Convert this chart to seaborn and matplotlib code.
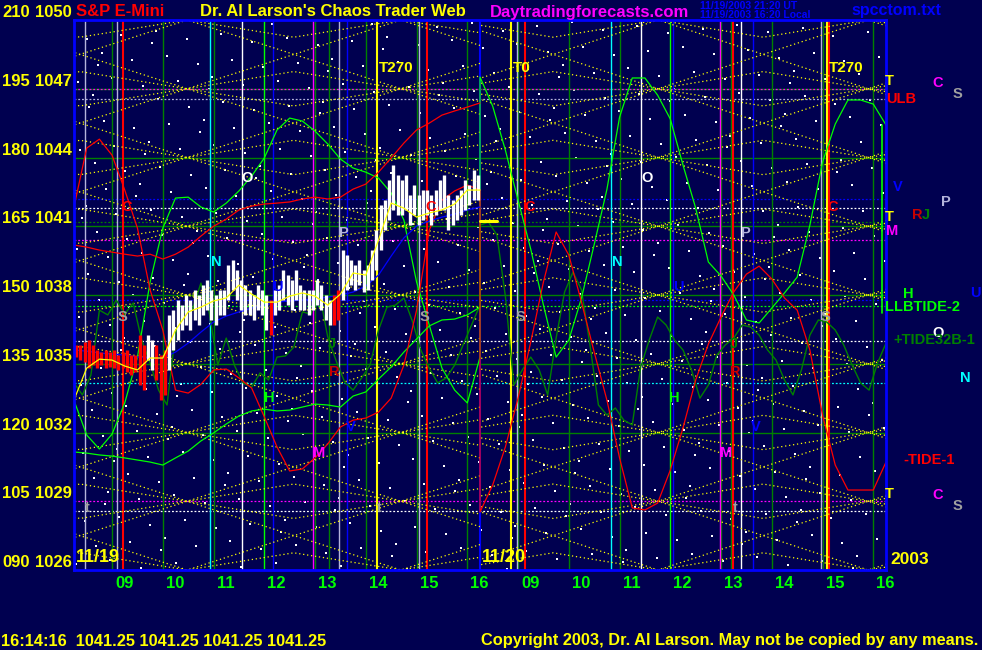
import numpy as np
import matplotlib
matplotlib.use('Agg')
import matplotlib.pyplot as plt
import seaborn as sns
from matplotlib.patches import Rectangle

sns.set_style('dark')
plt.rcParams['font.family'] = ['Liberation Sans', 'DejaVu Sans']
plt.rcParams['font.weight'] = 'bold'

# ---------------- data ----------------
price_levels = [1026, 1029, 1032, 1035, 1038, 1041, 1044, 1047, 1050]
angle_labels = ['090', '105', '120', '135', '150', '165', '180', '195', '210']
hours = [9, 10, 11, 12, 13, 14, 15, 16]
day_names = ['11/19', '11/20']

# 15 minute samples from 8:15 to 16:15 (33 per day)
red_cycle_d1 = [1041.84, 1044.41, 1044.8, 1044.1, 1042.58, 1040.92, 1038.22, 1036.47, 1033.85, 1033.72,
                1034.1, 1034.73, 1034.77, 1034.38, 1033.94, 1032.68, 1031.37, 1030.32, 1030.41, 1030.89,
                1031.5, 1032.24, 1032.54, 1032.63, 1032.89, 1033.5, 1034.94, 1037.34, 1040.83, 1042.14,
                1042.54, 1042.8, 1042.58]
red_cycle_d2 = [1028.53, 1029.71, 1031.37, 1033.5, 1035.95, 1038.57, 1040.75, 1039.74, 1037.69, 1035.51,
                1033.42, 1030.89, 1028.71, 1028.62, 1028.92, 1030.36, 1032.2, 1034.29, 1035.86, 1037.04,
                1038.13, 1038.91, 1039.26, 1038.7, 1037.87, 1037.34, 1035.6, 1032.76, 1030.58, 1029.49,
                1029.49, 1029.49, 1030.71]
green_tide_d1 = [1033.4, 1031.89, 1031.28, 1031.93, 1033.29, 1035.29, 1038.57, 1040.92, 1042.23, 1042.27,
                 1041.84, 1041.62, 1042.01, 1042.54, 1043.19, 1043.98, 1045.2, 1045.72, 1045.59, 1045.15,
                 1044.59, 1043.93, 1043.54, 1043.36, 1043.1, 1042.45, 1041.27, 1038.57, 1036.69, 1034.81,
                 1033.85, 1033.29, 1035.29]
green_tide_d2 = [1047.51, 1046.24, 1044.32, 1042.14, 1040.0, 1037.56, 1035.29, 1036.03, 1037.87, 1040.2,
                 1042.6, 1045.76, 1047.47, 1047.47, 1046.72, 1045.68, 1043.67, 1041.79, 1039.44, 1038.83,
                 1038.0, 1036.91, 1036.78, 1037.43, 1038.09, 1038.78, 1041.05, 1043.8, 1045.46, 1046.51,
                 1046.51, 1046.33, 1045.42]
green_llb_d1 = [1031.15, 1031.1, 1031.02, 1030.97, 1030.89, 1030.8, 1030.71, 1030.58, 1030.89, 1031.19,
                1031.63, 1031.98, 1032.37, 1032.72, 1032.94, 1033.02, 1032.94, 1032.98, 1033.11, 1033.24,
                1033.2, 1033.11, 1033.59, 1033.77, 1034.33, 1034.86, 1035.51, 1036.08, 1036.65, 1036.91,
                1036.95, 1037.13, 1037.47]
blue_avg_d1 = [1035.6, 1035.55, 1035.47, 1035.42, 1035.38, 1035.29, 1035.25, 1035.25, 1035.51, 1035.9,
               1036.38, 1036.82, 1037.08, 1037.26, 1037.43, 1037.56, 1037.69, 1037.74, 1037.78, 1037.82,
               1037.91, 1038.0, 1038.13, 1038.39, 1038.87, 1039.7, 1040.49, 1041.01, 1041.23, 1041.4,
               1041.53, 1041.71, 1041.84]
yellow_avg_d1 = [1033.42, 1034.81, 1035.2, 1035.16, 1034.9, 1034.73, 1035.25, 1035.25, 1036.47, 1037.26,
                 1037.47, 1037.74, 1037.87, 1038.43, 1038.04, 1037.69, 1037.69, 1037.95, 1038.09, 1037.95,
                 1037.56, 1038.04, 1038.96, 1038.87, 1040.4, 1042.01, 1041.79, 1041.4, 1041.58, 1041.71,
                 1041.97, 1042.58, 1042.58]
red_slow_d1 = [1040.18, 1040.09, 1039.96, 1039.87, 1039.78, 1039.7, 1039.78, 1039.57, 1039.78, 1040.09,
               1040.57, 1041.0, 1041.31, 1041.71, 1041.88, 1041.97, 1042.01, 1042.06, 1042.19, 1042.27,
               1042.19, 1042.27, 1042.62, 1042.84, 1043.36, 1043.98, 1044.63, 1045.2, 1045.5, 1045.85,
               1046.03, 1046.2, 1046.38]

# 10 minute samples (49 per day)
dkgreen_d1 = [1034.16, 1033.64, 1034.51, 1037.34, 1037.13, 1037.78, 1037.17, 1037.65, 1036.03, 1035.03,
              1033.85, 1033.2, 1036.34, 1037.26, 1037.34, 1038.52, 1037.21, 1034.94, 1036.12, 1034.9,
              1034.16, 1033.98, 1034.6, 1034.29, 1035.29, 1035.34, 1035.73, 1037.26, 1037.17, 1038.09,
              1036.17, 1035.12, 1034.2, 1033.85, 1034.38, 1034.94, 1036.47, 1037.47, 1037.56, 1037.87,
              1036.86, 1035.6, 1034.81, 1034.16, 1034.38, 1034.94, 1035.82, 1036.69, 1037.56]
dkgreen_d2 = [1041.05, 1041.18, 1040.62, 1037.95, 1034.07, 1034.73, 1035.29, 1034.73, 1033.64, 1036.12,
              1038.13, 1039.0, 1038.22, 1035.82, 1033.2, 1032.76, 1033.07, 1032.54, 1032.33, 1034.86,
              1036.03, 1037.04, 1036.69, 1036.03, 1035.6, 1034.73, 1033.5, 1034.07, 1035.38, 1035.82,
              1036.12, 1036.69, 1036.6, 1036.25, 1035.6, 1035.16, 1034.29, 1033.64, 1034.73, 1036.25,
              1036.91, 1036.82, 1036.47, 1035.82, 1034.94, 1034.16, 1033.85, 1035.03, 1035.9]

# 5 minute price bars, 11/19
bar_high = [1035.82, 1035.82, 1035.95, 1036.03, 1035.82, 1035.60, 1035.51, 1035.60, 1035.51,
            1035.60, 1035.38, 1035.51, 1035.60, 1035.38, 1035.38, 1036.25, 1035.82,
            1036.25, 1036.03, 1035.82, 1035.38, 1035.60, 1037.13, 1037.34, 1037.78, 1037.56, 1038.00,
            1037.78, 1038.22, 1038.00, 1038.43, 1038.65, 1038.22, 1038.00, 1038.22, 1038.22, 1039.31,
            1039.53, 1039.09, 1038.65, 1038.43, 1038.22, 1038.00, 1038.43, 1038.22,
            1038.00, 1037.78, 1038.22, 1038.43, 1039.09, 1038.87, 1038.65, 1039.09, 1038.43, 1038.22,
            1038.22, 1038.22, 1038.65, 1038.43, 1038.00, 1037.78, 1038.00, 1038.22, 1039.96,
            1039.74, 1039.53, 1039.31, 1039.53, 1039.09, 1039.31, 1039.96, 1040.83, 1041.92, 1042.14,
            1043.02, 1043.67, 1043.23, 1043.02, 1043.23, 1042.36, 1042.80, 1042.36,
            1042.58, 1042.58, 1042.36, 1042.58, 1043.02, 1043.23, 1042.36, 1042.14, 1042.36, 1042.58,
            1043.02, 1042.80, 1043.45, 1043.23]
bar_low = [1035.29, 1035.16, 1035.08, 1034.81, 1034.94, 1034.81, 1034.94, 1034.81, 1034.86,
           1034.81, 1034.73, 1034.81, 1034.64, 1034.51, 1034.64, 1034.07, 1033.85,
           1035.16, 1034.73, 1034.29, 1033.42, 1033.64, 1034.73, 1035.60, 1036.03, 1036.47, 1036.69,
           1036.47, 1036.91, 1036.69, 1037.13, 1037.34, 1036.91, 1036.69, 1037.13, 1037.13, 1037.78,
           1038.22, 1037.78, 1037.34, 1037.13, 1037.13, 1036.91, 1037.34, 1037.13,
           1036.47, 1036.25, 1037.13, 1037.34, 1037.78, 1037.56, 1037.34, 1037.78, 1037.34, 1037.34,
           1037.13, 1037.34, 1037.56, 1037.34, 1036.91, 1036.69, 1036.69, 1036.91, 1037.78,
           1038.22, 1038.43, 1038.22, 1038.43, 1038.13, 1038.22, 1038.65, 1039.09, 1039.96, 1040.83,
           1041.27, 1041.71, 1041.49, 1041.49, 1041.71, 1041.05, 1041.49, 1041.05,
           1041.27, 1041.49, 1041.05, 1041.49, 1041.71, 1041.71, 1040.83, 1041.05, 1041.27, 1041.49,
           1041.71, 1041.92, 1042.14, 1042.14]
red_bar_idx = list(range(0, 17)) + [19, 20, 21, 46, 61, 62]
last_price = 1041.25

# horizontal reference levels
green_levels = [1032, 1035, 1038, 1041, 1044, 1047]
dotted_levels = [(1047.0, 'mag'), (1046.54, 'lav'), (1042.2, 'blu'), (1041.8, 'wht'), (1041.2, 'dkg'),
                 (1040.4, 'mag'), (1037.8, 'blu'), (1037.5, 'grn'), (1036.0, 'wht'), (1034.16, 'cyn'),
                 (1029.0, 'mag'), (1028.57, 'wht')]

# vertical timing lines: (day, clock hour, colour)
timing_lines = [(0, 8.47, 'lav'), (0, 9.10, 'lav'), (0, 9.22, 'red'), (0, 10.93, 'cyn'), (0, 11.56, 'wht'),
                (0, 12.17, 'blu'), (0, 12.96, 'mag'), (0, 13.27, 'dkg'), (0, 13.47, 'lav'), (0, 13.63, 'blu'),
                (0, 14.22, 'yel'), (0, 15.05, 'lav'), (0, 15.21, 'red'),
                (1, 8.87, 'yel'), (1, 8.97, 'lav'), (1, 9.13, 'red'), (1, 10.84, 'cyn'), (1, 11.43, 'wht'),
                (1, 12.06, 'blu'), (1, 12.97, 'mag'), (1, 13.19, 'dkg'), (1, 13.23, 'red'), (1, 13.39, 'wht'),
                (1, 13.62, 'blu'), (1, 14.96, 'lav'), (1, 15.08, 'yel'), (1, 15.12, 'red')]

# geometric angle lattice turning points (chart hours) per day
lattice_edges = [[-1.99, 2.23, 6.44, 10.66], [7.37, 11.51, 15.65, 19.79]]

# ---------------- style ----------------
BG = '#000050'
C = {'red': '#ff0000', 'yel': '#ffff00', 'grn': '#00ff00', 'dkg': '#008000', 'blu': '#0000ff',
     'cyn': '#00ffff', 'mag': '#ff00ff', 'lav': '#b4b4dc', 'wht': '#ffffff', 'gry': '#a0a0a0',
     'dkr': '#c80000'}


def ch(day, clock):
    return day * 8 + clock - 8.25


fig = plt.figure(figsize=(9.82, 6.5), dpi=100, facecolor=BG)
ax = fig.add_axes([74 / 982, 80 / 650, 812 / 982, 550 / 650])
ax.set_facecolor(BG)
ax.set_xlim(0, 16)
ax.set_ylim(1026, 1050)
for s in ax.spines.values():
    s.set_color(C['blu'])
    s.set_linewidth(2)
    s.set_zorder(20)

# star field texture
n = np.arange(700)
ax.scatter((0.5 + n * 0.7548776662) % 1 * 16, 1026 + (0.5 + n * 0.5698402910) % 1 * 24,
           s=1.6, c='white', marker='s', linewidths=0, zorder=1)

# horizontal lines
for lv in green_levels:
    ax.axhline(lv, color=C['dkg'], lw=1.0, zorder=2)
for lv, c in dotted_levels:
    ax.axhline(lv, color=C[c], lw=0.9, ls=(0, (1.5, 1.5)), zorder=2)

# hour lines and timing lines
for d in (0, 1):
    for h in hours:
        ax.axvline(ch(d, h), color=C['grn'] if h == 12 else C['dkg'], lw=1.0, zorder=2)
for d, h, c in timing_lines:
    ax.axvline(ch(d, h), color=C[c], lw=1.5 if c in ('red', 'yel') else 1.0, zorder=3)
ax.axvline(8, color=C['blu'], lw=1.5, zorder=3)

# yellow angle lattice
for d, edges in enumerate(lattice_edges):
    clip = Rectangle((8 * d, 1026), 8, 24, transform=ax.transData)
    half = (edges[1] - edges[0]) / 2
    mids = [e - half for e in edges] + [edges[-1] + half]
    for lo in range(1026, 1050, 3):
        for ys in ([lo, lo + 3, lo, lo + 3], [lo + 3, lo, lo + 3, lo]):
            ln, = ax.plot(edges, ys, color=C['yel'], lw=0.9, ls=(0, (1, 2.2)), zorder=4)
            ln.set_clip_path(clip)
    for lv in price_levels:
        for sgn in (1, -1):
            ys = [lv + sgn * 0.75 * (-1) ** i for i in range(len(mids))]
            ln, = ax.plot(mids, ys, color=C['yel'], lw=0.9, ls=(0, (1, 2.2)), zorder=4)
            ln.set_clip_path(clip)

# curves
x15 = np.arange(33) * 0.25
x10 = np.arange(49) / 6
kw = dict(ax=ax, estimator=None, sort=False, legend=False)
sns.lineplot(x=np.r_[x10, x10 + 8], y=dkgreen_d1 + dkgreen_d2, color=C['dkg'], lw=1.0, zorder=5, **kw)
sns.lineplot(x=x15, y=green_llb_d1, color=C['grn'], lw=0.9, zorder=5, **kw)
sns.lineplot(x=np.r_[x15, x15 + 8], y=green_tide_d1 + green_tide_d2, color=C['grn'], lw=0.9, zorder=5, **kw)
ax.plot([15.93, 15.93], [green_tide_d2[-1], 1037.2], color=C['grn'], lw=1.2, zorder=5)
sns.lineplot(x=x15, y=red_slow_d1, color=C['red'], lw=0.9, zorder=5, **kw)
sns.lineplot(x=np.r_[x15, x15 + 8], y=red_cycle_d1 + red_cycle_d2, color=C['red'], lw=0.9, zorder=5, **kw)
sns.lineplot(x=x15, y=blue_avg_d1, color=C['blu'], lw=0.9, zorder=6, **kw)

# price bars
bar_x = (np.arange(len(bar_high)) + 0.5) / 12
cols = [C['red'] if i in red_bar_idx else C['wht'] for i in range(len(bar_high))]
ax.vlines(bar_x, bar_low, bar_high, colors=cols, lw=2.4, zorder=7)
sns.lineplot(x=x15, y=yellow_avg_d1, color=C['yel'], lw=0.9, zorder=8, **kw)
ax.plot([8.0, 8.33], [last_price, last_price], color=C['yel'], lw=2.2, zorder=8)

# axis ticks and labels
ax.set_xticks([ch(d, h) for d in (0, 1) for h in hours])
ax.set_xticklabels([])
ax.set_yticks(price_levels)
ax.set_yticklabels([])
ax.tick_params(axis='x', colors=C['dkg'], length=4, width=1, direction='out')
ax.tick_params(axis='y', colors=C['yel'], length=1.5, width=1, direction='out')
for d in (0, 1):
    for h in hours:
        ax.annotate(f'{h:02d}', xy=(ch(d, h), 0), xycoords=('data', 'axes fraction'), xytext=(3, -14),
                    textcoords='offset pixels', ha='left', va='center', color=C['grn'], fontsize=12,
                    annotation_clip=False)
for lv, ang in zip(price_levels, angle_labels):
    ax.annotate(str(lv), xy=(0, lv), xycoords=('axes fraction', 'data'), xytext=(-2, 0),
                textcoords='offset pixels', ha='right', va='bottom', color=C['yel'], fontsize=12,
                annotation_clip=False)
    ax.annotate(ang, xy=(0, lv), xycoords=('axes fraction', 'data'), xytext=(-72, 0),
                textcoords='offset pixels', ha='left', va='bottom', color=C['yel'], fontsize=12,
                annotation_clip=False)
for d, name in enumerate(day_names):
    ax.text(8 * d + 0.04, 1026.55, name, color=C['yel'], fontsize=13, va='center', ha='left', zorder=12)

# in-chart markers: (text, colour, x on 11/19, x on 11/20)
marks = [('C', 'red', 1.04, 8.98), ('O', 'wht', 3.41, 11.3), ('N', 'cyn', 2.80, 10.71), ('U', 'blu', 4.0, 11.9),
         ('P', 'lav', 5.32, 13.23), ('C', 'red', 7.03, 14.95), ('S', 'gry', 0.95, 8.8), ('S', 'gry', 6.9, 14.8),
         ('J', 'dkg', 5.08, 13.01), ('R', 'dkr', 5.12, 13.03), ('H', 'grn', 3.84, 11.83),
         ('V', 'blu', 5.46, 13.43), ('M', 'mag', 4.83, 12.84), ('t', 'gry', 0.26, None), ('t', 'gry', 6.01, 13.03)]
mark_price = {'C': 1041.84, 'O': 1043.1, 'N': 1039.44, 'U': 1038.35, 'P': 1040.7, 'S': 1037.04,
              'J': 1035.85, 'R': 1034.64, 'H': 1033.5, 'V': 1032.24, 'M': 1031.1, 't': 1028.7}
for txt, c, x1, x2 in marks:
    for x in (x1, x2):
        if x is not None:
            ax.text(x, mark_price[txt], txt, color=C[c], fontsize=10.5, ha='center', va='center', zorder=12)
for x, t in [(6.01, 'T270'), (8.64, 'T0'), (14.87, 'T270')]:
    ax.text(x, 1047.9, t, color=C['yel'], fontsize=11, ha='left', va='center', zorder=12)


def ftxt(X, Y, s, c, size=12, ha='left'):
    fig.text(X / 982, 1 - Y / 650, s, color=c, fontsize=size, ha=ha, va='center')


# right margin labels
for X, Y, s, c in [(889, 81, 'T', 'yel'), (938, 83, 'C', 'mag'), (957, 94, 'S', 'gry'),
                   (898, 187, 'V', 'blu'), (946, 202, 'P', 'lav'), (917, 215, 'R', 'dkr'), (926, 215, 'J', 'dkg'),
                   (889, 217, 'T', 'yel'), (892, 231, 'M', 'mag'), (908, 294, 'H', 'grn'), (975, 293, 'U', 'blu'),
                   (938, 333, 'O', 'wht'), (965, 378, 'N', 'cyn'),
                   (889, 494, 'T', 'yel'), (938, 495, 'C', 'mag'), (957, 506, 'S', 'gry')]:
    ftxt(X, Y, s, C[c], 10.5, 'center')
ftxt(886, 99, 'ULB', C['red'], 10.5)
ftxt(885, 307, 'LLBTIDE-2', C['grn'], 10.5)
ftxt(893, 340, '+TIDE32B-1', C['dkg'], 10.5)
ftxt(903, 460, '-TIDE-1', C['red'], 10.5)

# header and footer
ftxt(76, 12, 'S&P E-Mini', C['red'], 12)
ftxt(200, 12, "Dr. Al Larson's Chaos Trader Web", C['yel'], 12)
ftxt(490, 12, 'Daytradingforecasts.com', C['mag'], 12)
ftxt(700, 6, '11/19/2003 21:20 UT', C['blu'], 7.5)
ftxt(700, 15, '11/19/2003 16:20 Local', C['blu'], 7.5)
ftxt(851, 11, 'spcctom.txt', C['blu'], 11.5)
ftxt(890, 560, '2003', C['yel'], 12.5)
ftxt(1, 641, '16:14:16  1041.25 1041.25 1041.25 1041.25', C['yel'], 11.8)
ftxt(481, 641, 'Copyright 2003, Dr. Al Larson. May not be copied by any means.', C['yel'], 11.75)

fig.savefig('out.png', dpi=100, facecolor=BG)
